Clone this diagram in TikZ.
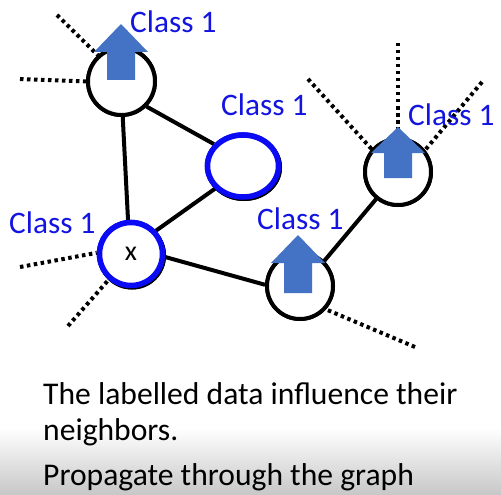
\documentclass[tikz,border=0pt]{standalone}
\usepackage{fontspec}
\setmainfont{Carlito}
\usetikzlibrary{shapes.geometric}
\definecolor{lblblue}{RGB}{20,20,225}
\definecolor{ringblue}{RGB}{10,10,245}
\definecolor{arrowblue}{HTML}{4472C4}
\tikzset{
  plain/.style={circle, draw=black, line width=4pt, fill=white, inner sep=0pt},
  bluering/.style={draw=ringblue, line width=5.5pt, fill=white, inner sep=0pt,
     preaction={draw=black, line width=5pt, transform canvas={shift={(1pt,-1.5pt)}}}},
  edge/.style={draw=black, line width=4pt},
  dotline/.style={draw=black, line width=4pt, dash pattern=on 3.5pt off 3.5pt},
  classlbl/.style={anchor=base west, inner sep=0pt, text=lblblue, font=\fontsize{31.3}{36}\selectfont},
  bodytext/.style={anchor=base west, inner sep=0pt, text=black, font=\fontsize{31.6}{36}\selectfont},
  uparrow/.style={fill=arrowblue}
}
\begin{document}
\begin{tikzpicture}[x=1pt,y=-1pt]
\useasboundingbox (0,0) rectangle (501,495);
\fill[white] (0,0) rectangle (501,495);
\shade[top color=white, bottom color=black!22] (0,428) rectangle (501,495);

% nodes
\node[plain, minimum size=67pt] (A) at (121.5,81.5) {};
\node[ellipse, bluering, minimum width=71pt, minimum height=62pt] (B) at (243,166) {};
\node[plain, minimum size=66pt] (C) at (398,172) {};
\node[circle, bluering, minimum size=63pt, font=\fontsize{28}{34}\selectfont] (X) at (131,254) {x};
\node[plain, minimum size=66pt] (D) at (300,286) {};

% free ends of dotted lines
\coordinate (a1) at (57,15);
\coordinate (a2) at (20,79);
\coordinate (c1) at (308,79);
\coordinate (c2) at (398,43);
\coordinate (c3) at (482,82);
\coordinate (x1) at (20,267);
\coordinate (x2) at (68,326);
\coordinate (d1) at (415,347);

% edges
\draw[edge] (A.-45) -- (B.143);
\draw[edge] (A.-88) -- (X.95);
\draw[edge] (X.43) -- (B.-141);
\draw[edge] (X.-5) -- (D.178);
\draw[edge] (D.46) -- (C.-129);

% dotted
\draw[dotline] (a1) -- (A.132);
\draw[dotline] (a2) -- (A.180);
\draw[dotline] (c1) -- (C.139);
\draw[dotline] (c2) -- (C.90);
\draw[dotline] (c3) -- (C.39);
\draw[dotline] (x1) -- (X.178);
\draw[dotline] (x2) -- (X.-131);
\draw[dotline] (d1) -- (D.-42);

% redraw nodes over edges
\node[plain, minimum size=67pt] at (A) {};
\node[plain, minimum size=66pt] at (C) {};
\node[plain, minimum size=66pt] at (D) {};
\node[ellipse, bluering, minimum width=71pt, minimum height=62pt] at (B) {};
\node[circle, bluering, minimum size=63pt, font=\fontsize{28}{34}\selectfont] at (X) {x};

% block arrows (tip at origin)
\fill[uparrow, shift={(121,24)}] (0,0) -- (27,28) -- (14,28) -- (14,56) -- (-14,56) -- (-14,28) -- (-27,28) -- cycle;
\fill[uparrow, shift={(398,127)}] (0,0) -- (27,26) -- (14,26) -- (14,51) -- (-14,51) -- (-14,26) -- (-27,26) -- cycle;
\fill[uparrow, shift={(298,235)}] (0,0) -- (27,28) -- (14,28) -- (14,58) -- (-14,58) -- (-14,28) -- (-27,28) -- cycle;

% labels
\node[classlbl] (LA) at (130,33) {Class 1};
\node[classlbl] (LB) at (221,115) {Class 1};
\node[classlbl] (LC) at (408,125) {Class 1};
\node[classlbl] (LX) at (9,233) {Class 1};
\node[classlbl] (LD) at (257,229) {Class 1};

% body text
\node[bodytext] (T1) at (43,404) {The labelled data influence their};
\node[bodytext] (T2) at (43,440) {neighbors.};
\node[bodytext] (T3) at (43,485) {Propagate through the graph};
\end{tikzpicture}
\end{document}
